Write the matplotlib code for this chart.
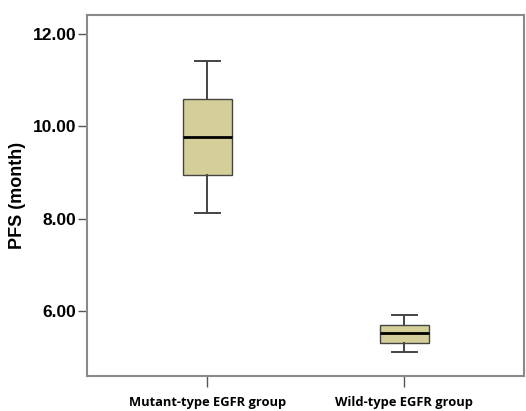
import matplotlib
matplotlib.use("Agg")
import matplotlib.pyplot as plt

# --- Data ---
groups = ["Mutant-type EGFR group", "Wild-type EGFR group"]
whisker_low = [8.12, 5.12]
q1 = [8.94, 5.32]
median = [9.76, 5.52]
q3 = [10.58, 5.71]
whisker_high = [11.40, 5.91]
y_ticks = [6.0, 8.0, 10.0, 12.0]

stats = []
for i, name in enumerate(groups):
    stats.append({
        "label": name, "whislo": whisker_low[i], "q1": q1[i], "med": median[i],
        "q3": q3[i], "whishi": whisker_high[i], "fliers": [],
    })

fig = plt.figure(figsize=(5.26, 4.11), dpi=100)
ax = fig.add_axes([0.1654, 0.0852, 0.8308, 0.8783])

edge = "#444444"
ax.bxp(stats, positions=[1, 2], widths=0.25, patch_artist=True, showfliers=False,
       boxprops=dict(facecolor="#d4cf98", edgecolor=edge, linewidth=1.0),
       medianprops=dict(color="black", linewidth=2.0),
       whiskerprops=dict(color=edge, linewidth=1.4),
       capprops=dict(color=edge, linewidth=1.4),
       capwidths=0.125)

ax.set_xlim(0.39, 2.607)
ax.set_ylim(4.60, 12.40)
ax.set_yticks(y_ticks)
ax.set_yticklabels([f"{v:.2f}" for v in y_ticks], fontfamily="Liberation Sans",
                   fontweight="bold", fontsize=12.5)
ax.set_xticks([1, 2])
ax.set_xticklabels(groups, fontfamily="Open Sans", fontweight="bold", fontsize=9.3)
ax.tick_params(axis="y", length=6.5, width=1.0, color="#555555", pad=1)
ax.tick_params(axis="x", length=8, width=1.0, color="#555555", pad=6.5)
ax.set_ylabel("PFS (month)", fontfamily="Liberation Sans", fontweight="bold",
              fontsize=13, labelpad=5)

for spine in ax.spines.values():
    spine.set_color("#8a8a8a")
    spine.set_linewidth(1.5)

fig.savefig("out.png", dpi=100)
